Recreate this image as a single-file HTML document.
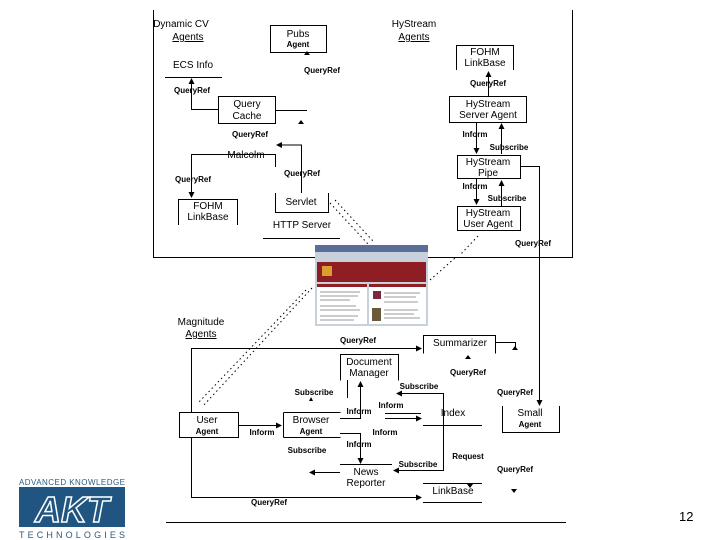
<!DOCTYPE html>
<html><head><meta charset="utf-8"><style>
html,body{margin:0;padding:0;background:#fff;width:720px;height:540px;overflow:hidden}
svg{display:block}
text{font-family:"Liberation Sans",sans-serif;font-size:9px;fill:#000}
.b{font-size:10px}
.s{font-size:8px;font-weight:bold}
</style></head><body>
<svg width="720" height="540" viewBox="0 0 720 540">
<defs><marker id="a" markerWidth="6" markerHeight="6" refX="5" refY="3" orient="auto"><path d="M0,0L6,3L0,6z" fill="#000"/></marker></defs>
<g stroke="#000" stroke-width="1" fill="none">
<path d="M153.5,10V257.5H572.5V10"/>
<rect x="270.5" y="25.5" width="56" height="27"/>
<path d="M165,77.5H222"/>
<path d="M218,109.5H191.5V79" marker-end="url(#a)"/>
<rect x="218.5" y="96.5" width="57" height="27"/>
<path d="M276,110.5H307"/>
<path d="M218,154.5H275.5V167"/>
<path d="M218,154.5H191.5V197" marker-end="url(#a)"/>
<path d="M178.5,225V199.5H237.5V225"/>
<path d="M301.5,193V145H277" marker-end="url(#a)"/>
<path d="M275.5,193V212.5H328.5V193"/>
<path d="M263,238.5H340"/>
<path d="M456.5,70V45.5H513.5V70"/>
<path d="M488.5,96V72" marker-end="url(#a)"/>
<rect x="449.5" y="96.5" width="77" height="26"/>
<path d="M476.5,123V153" marker-end="url(#a)"/>
<path d="M501.5,154V124" marker-end="url(#a)"/>
<rect x="457.5" y="155.5" width="63" height="23"/>
<path d="M476.5,179V204" marker-end="url(#a)"/>
<path d="M501.5,206V181" marker-end="url(#a)"/>
<rect x="457.5" y="206.5" width="63" height="24"/>
<path d="M521,166.5H539.5V405" marker-end="url(#a)"/>
<rect x="179.5" y="412.5" width="59" height="25"/>
<path d="M191.5,412V348.5H421" marker-end="url(#a)"/>
<path d="M191.5,437V497.5H421" marker-end="url(#a)"/>
<path d="M423.5,353.5V335.5H495.5V353.5"/>
<path d="M495,342.5H515.5V347"/>
<path d="M340.5,380.5V354.5H398.5V380.5"/>
<path d="M238,425.5H281" marker-end="url(#a)"/>
<path d="M283.5,437.5H340.5M283.5,412.5H340.5M283.5,412.5V437.5"/>
<path d="M340,418.5H360.5V382" marker-end="url(#a)"/>
<path d="M347.5,380V398"/>
<path d="M385,413.5H421M385,418.5H421" marker-end="url(#a)"/>
<path d="M423,425.5H482"/>
<path d="M443.5,425V393.5H397" marker-end="url(#a)"/>
<path d="M340,433.5H360.5V463" marker-end="url(#a)"/>
<path d="M340,464.5H392"/>
<path d="M340,472.5H310" marker-end="url(#a)"/>
<path d="M443.5,425V470.5H394" marker-end="url(#a)"/>
<path d="M423,483.5H482M423,502.5H482"/>
<path d="M502.5,406V432.5H559.5V406"/>
<path d="M166,522.5H566"/>
<path d="M330,203L368,244M335,200L373,241" stroke-dasharray="1.5,3"/>
<path d="M312,288L203,406M306,290L198,403" stroke-dasharray="1.5,3"/>
<path d="M430,280L455,258M478,236L460,255" stroke-dasharray="1.5,3"/>
</g>
<g fill="#000">
<path d="M304,55h6l-3,-4z"/><path d="M298,124h6l-3,-4z"/>
<path d="M465,359h6l-3,-4z"/><path d="M512,350h6l-3,-4z"/>
<path d="M467,484h6l-3,4z"/><path d="M511,489h6l-3,4z"/>
<path d="M309,401h4l-2,-4z"/>
</g>
<rect x="315" y="245" width="113" height="81" fill="#c8d0dc"/>
<rect x="315" y="245" width="113" height="7" fill="#5a6e98"/>
<rect x="317" y="262" width="109" height="20" fill="#8e1e24"/>
<rect x="322" y="266" width="10" height="10" fill="#d9a030"/>
<rect x="317" y="284" width="50" height="40" fill="#fff"/>
<rect x="369" y="284" width="57" height="40" fill="#fff"/>
<rect x="317" y="284" width="50" height="3" fill="#8e1e24"/>
<rect x="369" y="284" width="57" height="3" fill="#8e1e24"/>
<rect x="373" y="291" width="8" height="8" fill="#7a2a40"/>
<rect x="372" y="308" width="9" height="13" fill="#6a5a3a"/>
<g stroke="#999" stroke-width="1">
<path d="M320,292h40M320,296h38M320,300h30M320,306h36M320,310h40M320,316h38M320,320h34M384,293h36M384,297h32M384,302h34M384,310h34M384,314h30M384,318h36"/>
</g>
<g text-anchor="middle">
<text x="181" y="27" class="b">Dynamic CV</text>
<text x="188" y="40" class="b" text-decoration="underline">Agents</text>
<text x="298" y="37" class="b">Pubs</text><text x="298" y="47" class="s">Agent</text>
<text x="322" y="73" class="s">QueryRef</text>
<text x="193" y="68" class="b">ECS Info</text>
<text x="192" y="93" class="s">QueryRef</text>
<text x="247" y="107" class="b">Query</text><text x="247" y="119" class="b">Cache</text>
<text x="250" y="137" class="s">QueryRef</text>
<text x="246" y="158" class="b">Malcolm</text>
<text x="302" y="176" class="s">QueryRef</text>
<text x="193" y="182" class="s">QueryRef</text>
<text x="208" y="209" class="b">FOHM</text><text x="208" y="220" class="b">LinkBase</text>
<text x="301" y="205" class="b">Servlet</text>
<text x="302" y="228" class="b">HTTP Server</text>
<text x="414" y="27" class="b">HyStream</text>
<text x="414" y="40" class="b" text-decoration="underline">Agents</text>
<text x="485" y="55" class="b">FOHM</text><text x="485" y="66" class="b">LinkBase</text>
<text x="488" y="86" class="s">QueryRef</text>
<text x="488" y="107" class="b">HyStream</text><text x="488" y="118" class="b">Server Agent</text>
<text x="475" y="137" class="s">Inform</text>
<text x="509" y="150" class="s">Subscribe</text>
<text x="488" y="165" class="b">HyStream</text><text x="488" y="176" class="b">Pipe</text>
<text x="475" y="189" class="s">Inform</text>
<text x="507" y="201" class="s">Subscribe</text>
<text x="488" y="216" class="b">HyStream</text><text x="488" y="227" class="b">User Agent</text>
<text x="533" y="246" class="s">QueryRef</text>
<text x="201" y="325" class="b">Magnitude</text>
<text x="201" y="337" class="b" text-decoration="underline">Agents</text>
<text x="358" y="343" class="s">QueryRef</text>
<text x="460" y="346" class="b">Summarizer</text>
<text x="468" y="375" class="s">QueryRef</text>
<text x="369" y="365" class="b">Document</text><text x="369" y="376" class="b">Manager</text>
<text x="314" y="395" class="s">Subscribe</text>
<text x="419" y="389" class="s">Subscribe</text>
<text x="515" y="395" class="s">QueryRef</text>
<text x="391" y="408" class="s">Inform</text>
<text x="359" y="414" class="s">Inform</text>
<text x="453" y="416" class="b">Index</text>
<text x="207" y="423" class="b">User</text><text x="207" y="434" class="s">Agent</text>
<text x="311" y="423" class="b">Browser</text><text x="311" y="434" class="s">Agent</text>
<text x="262" y="435" class="s">Inform</text>
<text x="385" y="435" class="s">Inform</text>
<text x="530" y="416" class="b">Small</text><text x="530" y="427" class="s">Agent</text>
<text x="359" y="447" class="s">Inform</text>
<text x="307" y="453" class="s">Subscribe</text>
<text x="468" y="459" class="s">Request</text>
<text x="418" y="467" class="s">Subscribe</text>
<text x="515" y="472" class="s">QueryRef</text>
<text x="366" y="475" class="b">News</text><text x="366" y="486" class="b">Reporter</text>
<text x="453" y="494" class="b">LinkBase</text>
<text x="269" y="505" class="s">QueryRef</text>
</g>
<text x="679" y="521" style="font-size:13px">12</text>
<text x="72" y="485" text-anchor="middle" style="font-size:8px;fill:#2a5a80" textLength="106">ADVANCED KNOWLEDGE</text>
<rect x="19" y="487" width="106" height="40" fill="#1f5580"/>
<text x="72" y="522" text-anchor="middle" style="font-size:36px;font-weight:bold;font-style:italic;fill:#1f5580;stroke:#fff;stroke-width:1.5">AKT</text>
<text x="72" y="538" text-anchor="middle" style="font-size:9px;fill:#2a5a80" textLength="106">TECHNOLOGIES</text>
</svg>
</body></html>
